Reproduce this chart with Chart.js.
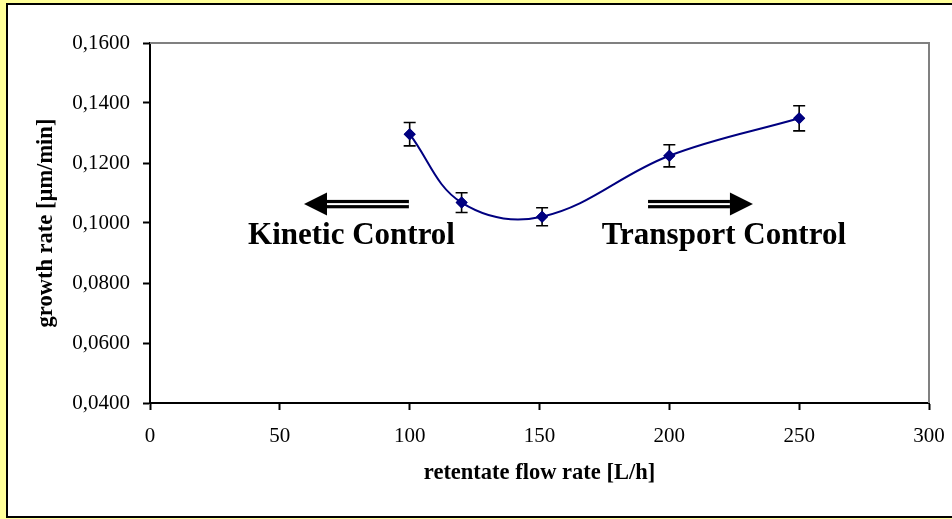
<!DOCTYPE html>
<html>
<head>
<meta charset="utf-8">
<script src="https://cdn.jsdelivr.net/npm/chart.js@4/dist/chart.umd.min.js"></script>
<style>
  html, body { margin: 0; padding: 0; background: #FFFF99; }
  #wrap { width: 952px; height: 519px; position: relative; }
</style>
</head>
<body>
<div id="wrap"><canvas id="c" width="952" height="519"></canvas></div>
<script>
// Retentate flow rate [L/h]
const flowRates = [100, 120, 151, 200, 250];
// Growth rate [µm/min]
const growthRates = [0.1296, 0.1068, 0.1021, 0.1224, 0.1349];
// Standard deviation of each growth rate
const growthErrors = [0.0039, 0.0033, 0.0030, 0.0037, 0.0042];

const yTicks = { min: 0.04, max: 0.16, step: 0.02 };
const xTicks = { min: 0, max: 300, step: 50 };

// Regime annotations: arrow from tail to tip, at a growth-rate level
const regimeArrows = [
  { from: 99.7, to: 59.3, level: 0.1063 },
  { from: 191.8, to: 232.2, level: 0.1063 }
];
const regimeLabels = [
  { text: 'Kinetic Control', x: 77.6, level: 0.0930 },
  { text: 'Transport Control', x: 221.0, level: 0.0930 }
];

const SERIF = '"Liberation Serif", "Times New Roman", serif';

// Yellow page with a white, black-framed sheet
const sheetPlugin = {
  id: 'sheet',
  beforeDraw(chart) {
    const ctx = chart.ctx;
    ctx.save();
    ctx.fillStyle = '#FFFF99';
    ctx.fillRect(0, 0, chart.width, chart.height);
    ctx.fillStyle = '#FFFFFF';
    ctx.fillRect(6, 3, chart.width, 515);
    ctx.strokeStyle = '#000000';
    ctx.lineWidth = 2;
    ctx.strokeRect(7, 4, chart.width + 10, 513);
    ctx.restore();
  },
  beforeDatasetsDraw(chart) {
    // grey frame on the top and right of the plot area
    const { ctx, chartArea: a } = chart;
    ctx.save();
    ctx.strokeStyle = '#808080';
    ctx.lineWidth = 2;
    ctx.beginPath();
    ctx.moveTo(a.left, a.top);
    ctx.lineTo(a.right, a.top);
    ctx.lineTo(a.right, a.bottom);
    ctx.stroke();
    ctx.restore();
  }
};

// Vertical error bars with caps
const errorBarPlugin = {
  id: 'errorBars',
  afterDatasetsDraw(chart) {
    const { ctx, scales: { x, y } } = chart;
    ctx.save();
    ctx.strokeStyle = '#000000';
    ctx.lineWidth = 1.6;
    flowRates.forEach((fr, i) => {
      const px = x.getPixelForValue(fr);
      const top = y.getPixelForValue(growthRates[i] + growthErrors[i]);
      const bot = y.getPixelForValue(growthRates[i] - growthErrors[i]);
      ctx.beginPath();
      ctx.moveTo(px, top); ctx.lineTo(px, bot);
      ctx.moveTo(px - 6, top); ctx.lineTo(px + 6, top);
      ctx.moveTo(px - 6, bot); ctx.lineTo(px + 6, bot);
      ctx.stroke();
    });
    // redraw markers on top of the bars
    const meta = chart.getDatasetMeta(0);
    meta.data.forEach(el => el.draw(ctx, chart.chartArea));
    ctx.restore();
  }
};

// Double-shafted block arrows and regime captions
const regimePlugin = {
  id: 'regimes',
  afterDraw(chart) {
    const { ctx, scales: { x, y } } = chart;
    ctx.save();
    regimeArrows.forEach(a => {
      const x0 = x.getPixelForValue(a.from);
      const x1 = x.getPixelForValue(a.to);
      const cy = y.getPixelForValue(a.level);
      const dir = Math.sign(x1 - x0);
      const headLen = 23, headHalf = 11.5;
      const baseX = x1 - dir * headLen;
      ctx.fillStyle = '#000000';
      ctx.fillRect(Math.min(x0, baseX), cy - 4.2, Math.abs(baseX - x0), 8.4);
      ctx.fillStyle = '#FFFFFF';
      ctx.fillRect(Math.min(x0, baseX) - 1, cy - 1, Math.abs(baseX - x0) + 1, 2);
      ctx.fillStyle = '#000000';
      ctx.beginPath();
      ctx.moveTo(x1, cy);
      ctx.lineTo(baseX, cy - headHalf);
      ctx.lineTo(baseX, cy + headHalf);
      ctx.closePath();
      ctx.fill();
    });
    ctx.font = 'bold 31px ' + SERIF;
    ctx.textAlign = 'center';
    ctx.textBaseline = 'alphabetic';
    ctx.fillStyle = '#000000';
    regimeLabels.forEach(l => {
      ctx.fillText(l.text, x.getPixelForValue(l.x), y.getPixelForValue(l.level));
    });
    ctx.restore();
  }
};

new Chart(document.getElementById('c'), {
  type: 'scatter',
  data: {
    datasets: [{
      data: flowRates.map((fr, i) => ({ x: fr, y: growthRates[i] })),
      showLine: true,
      borderColor: '#000080',
      backgroundColor: '#000080',
      borderWidth: 2,
      tension: 0.38,
      pointStyle: 'rectRot',
      pointRadius: 6,
      pointBorderWidth: 0,
      pointHoverRadius: 6
    }]
  },
  options: {
    responsive: false,
    animation: false,
    devicePixelRatio: 1,
    layout: { padding: { left: 10, top: 43, right: 23, bottom: 10 } },
    plugins: { legend: { display: false }, tooltip: { enabled: false } },
    scales: {
      x: {
        type: 'linear',
        min: xTicks.min, max: xTicks.max,
        afterFit(s) { s.height = 106; s.paddingRight = 0; s.paddingLeft = 0; },
        ticks: {
          stepSize: xTicks.step,
          color: '#000000',
          font: { family: SERIF, size: 21 },
          padding: 14,
          maxRotation: 0
        },
        grid: { drawOnChartArea: false, tickLength: 7, color: '#000000', tickWidth: 2 },
        border: { color: '#000000', width: 2 },
        title: {
          display: true,
          text: 'retentate flow rate [L/h]',
          color: '#000000',
          font: { family: SERIF, size: 22.5, weight: 'bold' },
          padding: { top: 0, bottom: 22 }
        }
      },
      y: {
        min: yTicks.min, max: yTicks.max,
        afterFit(s) { s.width = 140; s.paddingTop = 0; s.paddingBottom = 0; },
        ticks: {
          stepSize: yTicks.step,
          color: '#000000',
          font: { family: SERIF, size: 21 },
          padding: 13,
          callback: v => v.toFixed(4).replace('.', ',')
        },
        grid: { drawOnChartArea: false, tickLength: 7, color: '#000000', tickWidth: 2 },
        border: { color: '#000000', width: 2 },
        title: {
          display: true,
          text: 'growth rate [µm/min]',
          color: '#000000',
          font: { family: SERIF, size: 22.5, weight: 'bold' },
          padding: { top: 23, bottom: 0 }
        }
      }
    }
  },
  plugins: [sheetPlugin, errorBarPlugin, regimePlugin]
});
</script>
</body>
</html>
